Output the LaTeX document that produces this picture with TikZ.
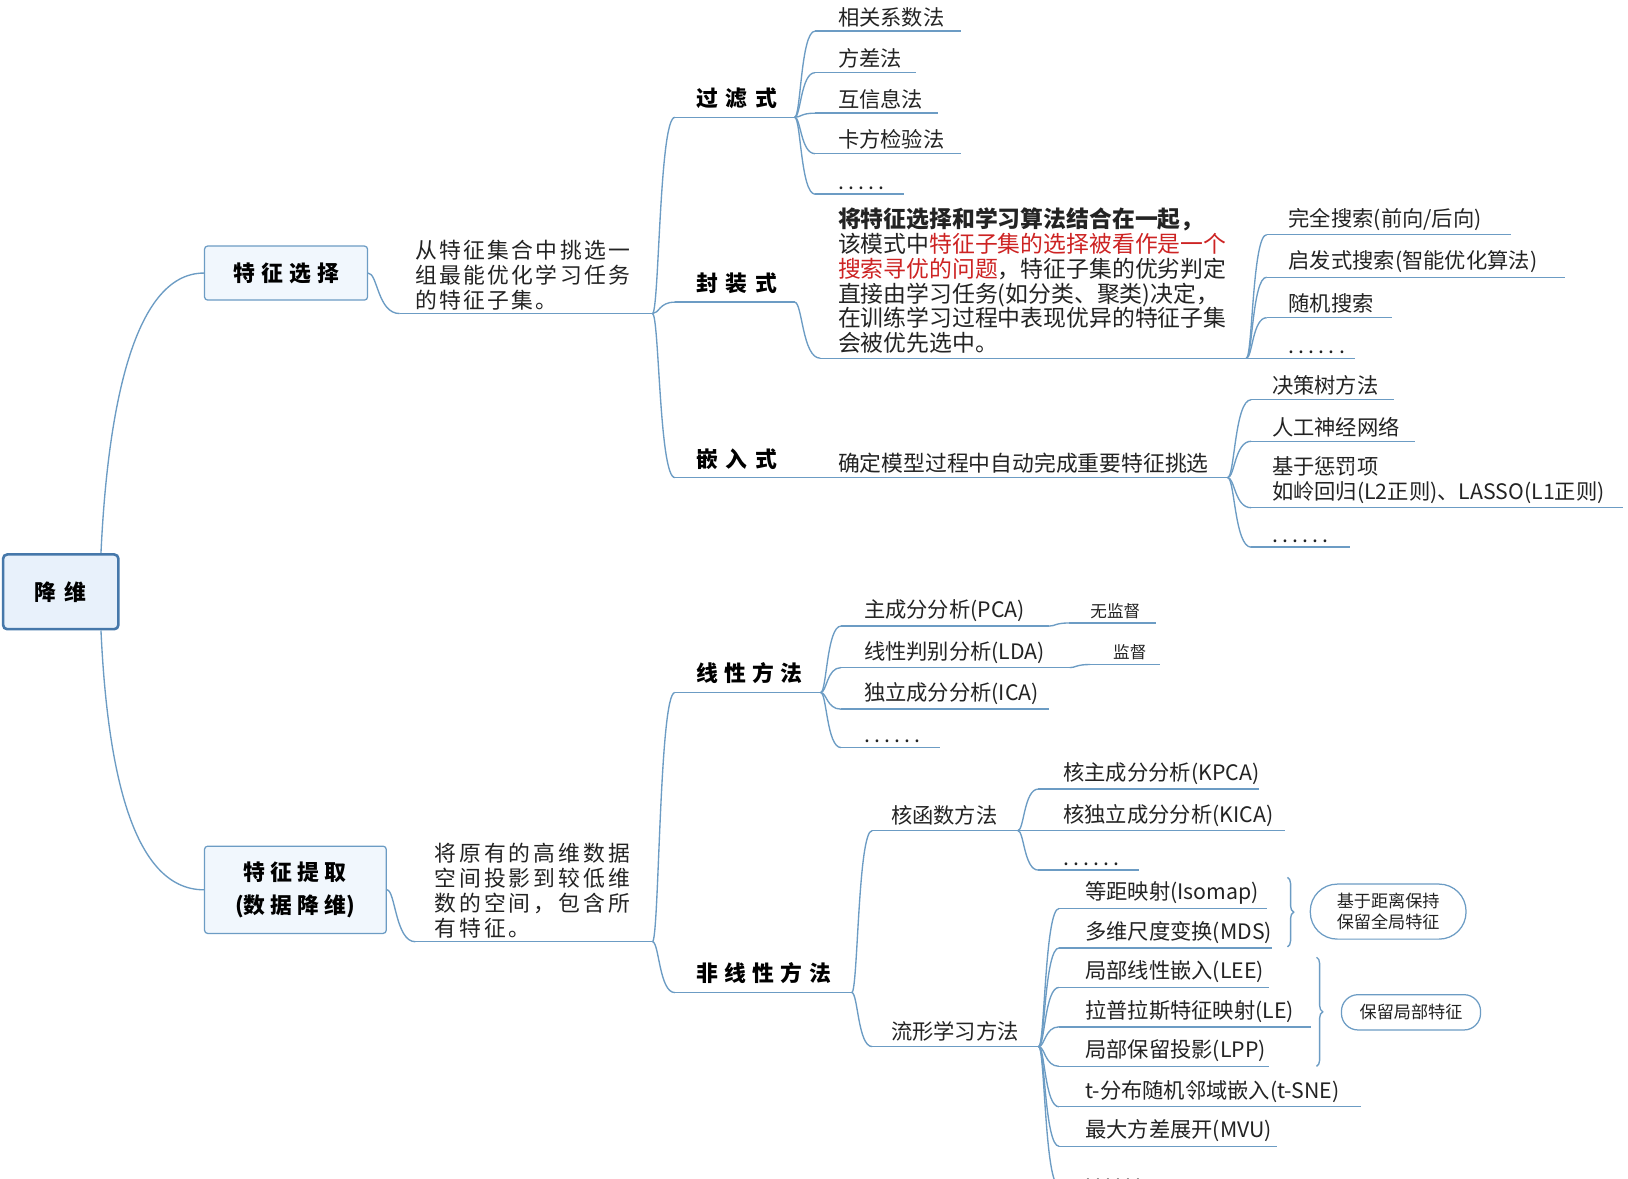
\documentclass[tikz,border=0pt]{standalone}
\usepackage{fontspec}
\setmainfont{Noto Sans CJK SC}
\usetikzlibrary{calc,decorations.pathreplacing}
\definecolor{lc}{RGB}{108,156,196}
\definecolor{rootfill}{RGB}{232,241,251}
\definecolor{rootdraw}{RGB}{70,120,170}
\definecolor{boxfill}{RGB}{241,247,253}
\definecolor{txt}{RGB}{35,35,35}
\definecolor{redtxt}{RGB}{205,35,35}
\makeatletter
\def\spcstop{\spcstop@}
\newcommand\spc[2]{\def\spcamt{#1}\spcaux#2\spcstop}
\def\spcaux#1{\ifx#1\spcstop\else#1\kern\spcamt\relax\expandafter\spcaux\fi}
\makeatother
\newcommand\lpad[1]{\leftskip=#1\relax}
\newcommand\leaffont{\fontsize{20.5}{24}\selectfont}
\newcommand\br[2]{\draw[ln] (#1) .. controls ($(#1)!0.3!(#1-|#2)$) and ($(#2-|#1)!0.3!(#2)$) .. (#2);}
\begin{document}
\begin{tikzpicture}[x=1pt,y=-1pt,
  ln/.style={draw=lc, line width=1.3pt},
  lf/.style={anchor=south west, inner xsep=0pt, inner ysep=4pt, align=left, font=\leaffont, text=txt},
  hd/.style={anchor=south west, inner xsep=0pt, inner ysep=8pt, align=left, font=\fontsize{21}{24}\selectfont\bfseries, text=black},
  desc/.style={anchor=south west, inner xsep=0pt, inner ysep=3pt, align=left, font=\fontsize{21}{24}\selectfont, text=txt},
  bub/.style={draw=lc, line width=1.2pt, align=center, font=\fontsize{16.5}{20}\selectfont, text=txt},
  topbox/.style={draw=lc, line width=1.2pt, fill=boxfill, rounded corners=3pt, align=center, font=\fontsize{21}{32}\selectfont\bfseries, text=black}
]
\clip (0,0) rectangle (1568,1135);
\fill[white] (0,0) rectangle (1568,1135);

% root and main boxes
\node[draw=rootdraw, line width=2.5pt, fill=rootfill, rounded corners=4pt, minimum width=111pt, minimum height=72pt, font=\fontsize{21}{24}\selectfont\bfseries, text=black] (root) at (58.5,570) {降\kern8pt维};
\node[topbox, minimum width=157pt, minimum height=52pt] (fs) at (275.5,263) {特\kern6pt征\kern6pt选\kern6pt择};
\node[topbox, minimum width=175pt, minimum height=84pt] (fe) at (284.5,857) {特\kern5pt征\kern5pt提\kern5pt取\\(数\kern5pt据\kern5pt降\kern5pt维)};

\draw[ln] ($(root.north east)+(-18,0)$) .. controls +(6,-130) and +(-70,0) .. (fs.west);
\draw[ln] ($(root.south east)+(-18,0)$) .. controls +(6,130) and +(-70,0) .. (fe.west);

% descriptions
\node[desc, text width=243pt] (d1) at (385,302) {\lpad{15pt}\spc{2.2pt}{从特征集合中挑选一}\\\spc{2.2pt}{组最能优化学习任务}\\\spc{2.2pt}{的特征子集。}\par};
\node[desc, text width=228pt] (d2) at (400,907) {\lpad{18pt}\spc{3pt}{将原有的高维数据}\\\spc{3pt}{空间投影到较低维}\\\spc{3pt}{数的空间，包含所}\\\spc{3pt}{有特征。}\par};
\br{fs.east}{d1.south west}
\br{fe.east}{d2.south west}

% feature selection headers
\node[hd, text width=115pt] (h1) at (650,113) {\lpad{21pt}\spc{7pt}{过滤式}\par};
\node[hd, text width=115pt] (h2) at (650,291) {\lpad{21pt}\spc{7pt}{封装式}\par};
\node[hd, text width=140pt] (h3) at (650,460) {\lpad{21pt}\spc{7pt}{嵌入式}\par};
\br{d1.south east}{h1.south west}
\br{d1.south east}{h2.south west}
\br{d1.south east}{h3.south west}

% filter leaves
\node[lf, text width=140pt] (a1) at (785,30) {\lpad{22pt}相关系数法\par};
\node[lf, text width=97pt] (a2) at (785,70) {\lpad{22pt}方差法\par};
\node[lf, text width=118pt] (a3) at (785,109) {\lpad{22pt}互信息法\par};
\node[lf, text width=140pt] (a4) at (785,148) {\lpad{22pt}卡方检验法\par};
\node[lf, text width=85pt] (a5) at (785,187) {\lpad{22pt}\spc{4pt}{.....}\par};
\foreach \n in {a1,a2,a3,a4,a5} {\br{h1.south east}{\n.south west}}

% wrapper block
\node[lf, text width=410pt, font=\fontsize{22}{24}\selectfont] (blk) at (790,345) {\lpad{17pt}{\bfseries 将特征选择和学习算法结合在一起，}\\该模式中\textcolor{redtxt}{特征子集的选择被看作是一个}\\\textcolor{redtxt}{搜索寻优的问题}，特征子集的优劣判定\\直接由学习任务(如分类、聚类)决定，\\在训练学习过程中表现优异的特征子集\\会被优先选中。\par};
\br{h2.south east}{blk.south west}
\node[lf, text width=235pt] (s1) at (1220,226) {\lpad{21pt}完全搜索(前向/后向)\par};
\node[lf, text width=287pt] (s2) at (1220,267) {\lpad{21pt}启发式搜索(智能优化算法)\par};
\node[lf, text width=120pt] (s3) at (1220,306) {\lpad{21pt}随机搜索\par};
\node[lf, text width=85pt] (s4) at (1220,345) {\lpad{21pt}\spc{4pt}{......}\par};
\foreach \n in {s1,s2,s3,s4} {\br{blk.south east}{\n.south west}}

% embedded
\node[lf, text width=392pt, font=\fontsize{21}{24}\selectfont] (emb) at (790,460) {\lpad{17pt}确定模型过程中自动完成重要特征挑选\par};
\br{h3.south east}{emb.south west}
\node[lf, text width=137pt] (e1) at (1205,385) {\lpad{20pt}决策树方法\par};
\node[lf, text width=157pt] (e2) at (1205,425) {\lpad{20pt}人工神经网络\par};
\node[lf, text width=358pt] (e3) at (1205,489) {\lpad{20pt}基于惩罚项\\如岭回归(L2正则)、LASSO(L1正则)\par};
\node[lf, text width=95pt] (e4) at (1205,527) {\lpad{20pt}\spc{4pt}{......}\par};
\foreach \n in {e1,e2,e3,e4} {\br{emb.south east}{\n.south west}}

% feature extraction headers
\node[hd, text width=140pt] (h4) at (650,667) {\lpad{21pt}\spc{6pt}{线性方法}\par};
\node[hd, text width=170pt] (h5) at (650,956) {\lpad{21pt}\spc{6pt}{非线性方法}\par};
\br{d2.south east}{h4.south west}
\br{d2.south east}{h5.south west}

% linear
\node[lf, text width=200pt] (p1) at (810,603) {\lpad{22pt}主成分分析(PCA)\par};
\node[lf, text width=220pt] (p2) at (810,643) {\lpad{22pt}线性判别分析(LDA)\par};
\node[lf, text width=200pt] (p3) at (810,683) {\lpad{22pt}独立成分分析(ICA)\par};
\node[lf, text width=95pt] (p4) at (810,720) {\lpad{22pt}\spc{4pt}{......}\par};
\foreach \n in {p1,p2,p3,p4} {\br{h4.south east}{\n.south west}}
\node[lf, text width=83pt, font=\fontsize{16}{20}\selectfont] (sup1) at (1030,600) {\lpad{20pt}无监督\par};
\node[lf, text width=67pt, font=\fontsize{16}{20}\selectfont] (sup2) at (1050,640) {\lpad{22pt}监督\par};
\br{p1.south east}{sup1.south west}
\br{p2.south east}{sup2.south west}

% nonlinear
\node[lf, text width=140pt, inner ysep=5pt] (k) at (840,800) {\lpad{18pt}核函数方法\par};
\node[lf, text width=160pt, inner ysep=5pt] (m) at (840,1008) {\lpad{18pt}流形学习方法\par};
\br{h5.south east}{k.south west}
\br{h5.south east}{m.south west}
\node[lf, text width=212pt] (k1) at (1000,760) {\lpad{24pt}核主成分分析(KPCA)\par};
\node[lf, text width=237pt] (k2) at (1000,800) {\lpad{24pt}核独立成分分析(KICA)\par};
\node[lf, text width=97pt] (k3) at (1000,838) {\lpad{24pt}\spc{4pt}{......}\par};
\foreach \n in {k1,k2,k3} {\br{k.south east}{\n.south west}}
\node[lf, text width=200pt] (m1) at (1020,875) {\lpad{25pt}等距映射(Isomap)\par};
\node[lf, text width=205pt] (m2) at (1020,913) {\lpad{25pt}多维尺度变换(MDS)\par};
\node[lf, text width=202pt] (m3) at (1020,951) {\lpad{25pt}局部线性嵌入(LEE)\par};
\node[lf, text width=242pt] (m4) at (1020,989) {\lpad{25pt}拉普拉斯特征映射(LE)\par};
\node[lf, text width=202pt] (m5) at (1020,1027) {\lpad{25pt}局部保留投影(LPP)\par};
\node[lf, text width=290pt] (m6) at (1020,1066) {\lpad{25pt}t-分布随机邻域嵌入(t-SNE)\par};
\node[lf, text width=210pt] (m7) at (1020,1104) {\lpad{25pt}最大方差展开(MVU)\par};
\node[lf, text width=90pt] (m8) at (1020,1142) {\lpad{25pt}\spc{4pt}{......}\par};
\foreach \n in {m1,m2,m3,m4,m5,m6,m7,m8} {\br{m.south east}{\n.south west}}

% underlines
\foreach \n in {d1,d2,h1,h2,h3,h4,h5,a1,a2,a3,a4,a5,blk,s1,s2,s3,s4,emb,e1,e2,e3,e4,p1,p2,p3,p4,sup1,sup2,k,m,k1,k2,k3,m1,m2,m3,m4,m5,m6,m7,m8}
  {\draw[ln] (\n.south west) -- (\n.south east);}

% braces and bubbles
\coordinate (b1t) at (1240,845);
\coordinate (b1b) at (1240,912);
\coordinate (b2t) at (1268,922);
\coordinate (b2b) at (1268,1027);
\draw[ln, decorate, decoration={brace, amplitude=6pt}] (b1t) -- (b1b);
\draw[ln, decorate, decoration={brace, amplitude=6pt}] (b2t) -- (b2b);
\node[bub, minimum width=150pt, minimum height=53pt, rounded corners=26pt] (g1) at (1337,878) {基于距离保持\\保留全局特征};
\node[bub, minimum width=134pt, minimum height=34pt, rounded corners=16pt] (g2) at (1359,975) {保留局部特征};
\end{tikzpicture}
\end{document}
